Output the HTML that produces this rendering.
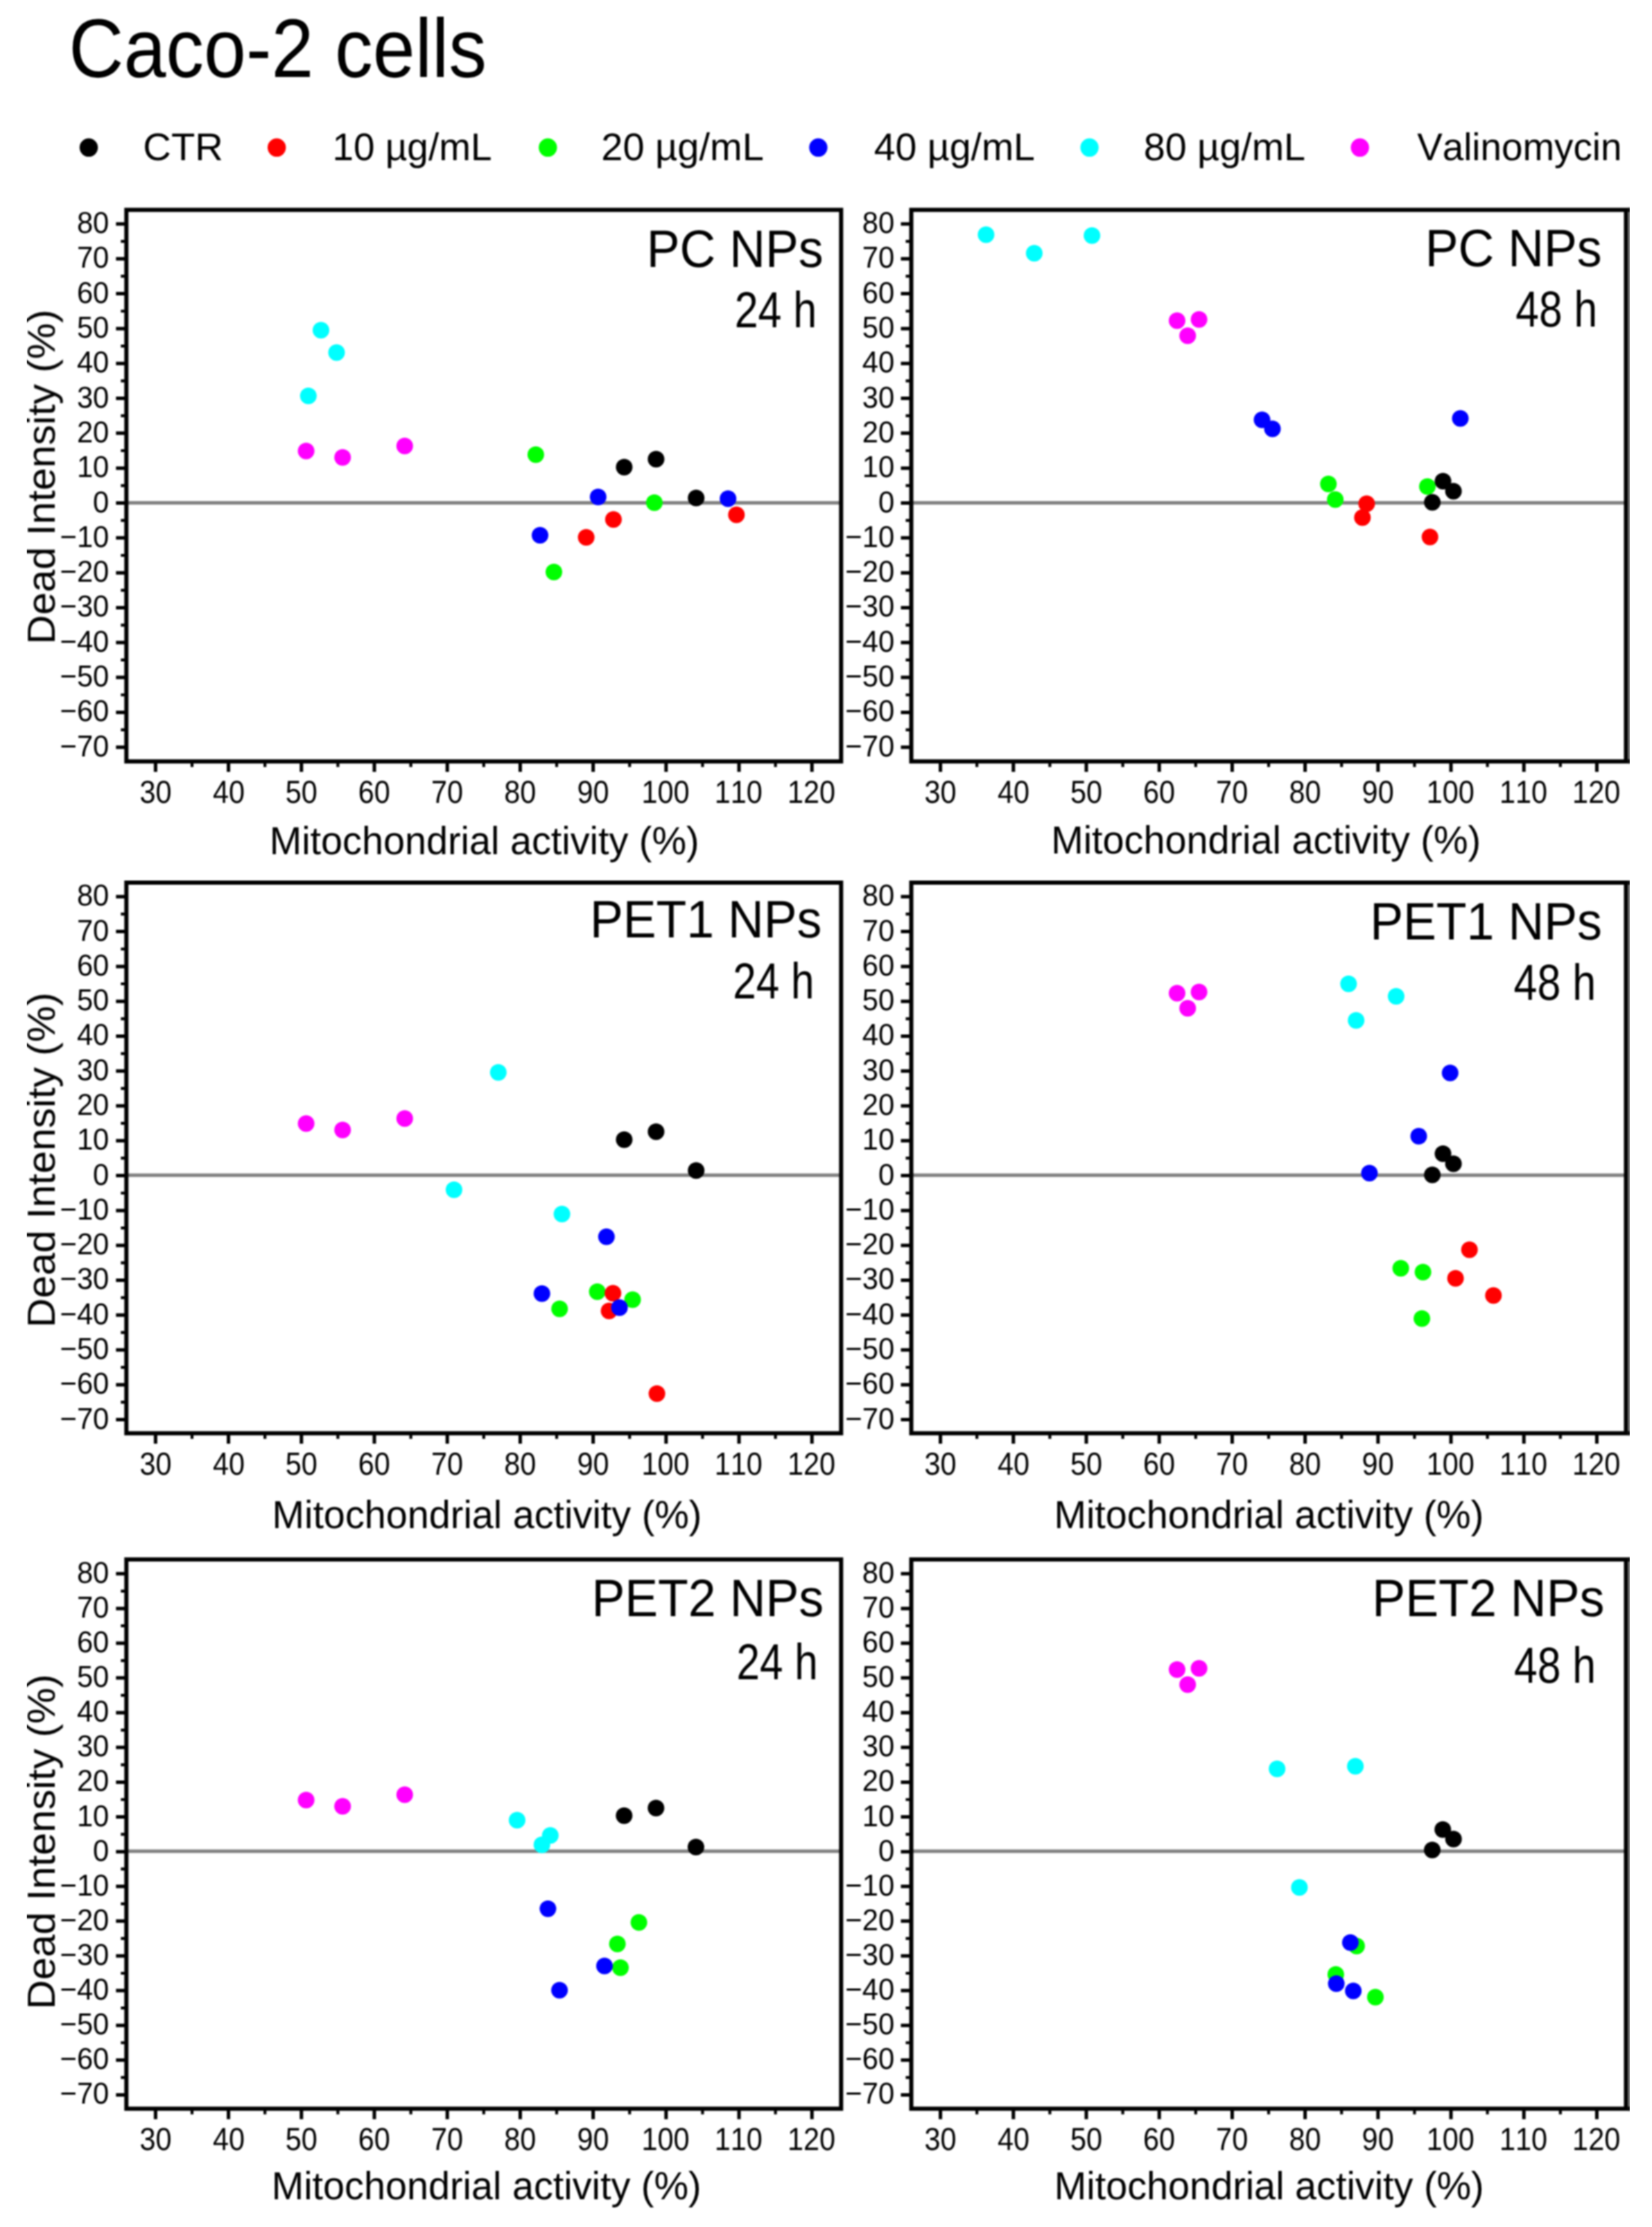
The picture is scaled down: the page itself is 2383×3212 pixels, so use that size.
<!DOCTYPE html>
<html lang="en"><head><meta charset="utf-8"><title>Caco-2 cells</title>
<style>html,body{margin:0;padding:0;background:#fff}svg{display:block}</style></head>
<body>
<svg width="2383" height="3212" viewBox="0 0 2383 3212" font-family="'Liberation Sans', sans-serif" text-rendering="geometricPrecision" style="font-kerning:none;font-variant-ligatures:none">
<rect width="2383" height="3212" fill="#fff"/>
<defs><filter id="soft" filterUnits="userSpaceOnUse" x="0" y="0" width="2383" height="3212" color-interpolation-filters="sRGB"><feGaussianBlur stdDeviation="1.1"/></filter></defs>
<g filter="url(#soft)">
<text transform="translate(99.24,111.40) scale(0.9132,1)" font-size="120" fill="#000" >Caco-2 cells</text>
<circle cx="128.0" cy="212.8" r="13.2" fill="#000000"/>
<text transform="translate(206.34,231.40) scale(1.0141,1)" font-size="55.5" fill="#000" >CTR</text>
<circle cx="399.2" cy="212.8" r="13.2" fill="#ff0000"/>
<text transform="translate(479.42,231.40) scale(0.9892,1)" font-size="55.5" fill="#000" >10 µg/mL</text>
<circle cx="790.3" cy="212.8" r="13.2" fill="#00ff00"/>
<text transform="translate(867.29,231.40) scale(1.0084,1)" font-size="55.5" fill="#000" >20 µg/mL</text>
<circle cx="1180.4" cy="212.8" r="13.2" fill="#0000ff"/>
<text transform="translate(1260.73,231.40) scale(0.9987,1)" font-size="55.5" fill="#000" >40 µg/mL</text>
<circle cx="1571.6" cy="212.8" r="13.2" fill="#00ffff"/>
<text transform="translate(1649.68,231.40) scale(1.0037,1)" font-size="55.5" fill="#000" >80 µg/mL</text>
<circle cx="1961.7" cy="212.8" r="13.2" fill="#ff00ff"/>
<text transform="translate(2044.16,231.40) scale(0.9869,1)" font-size="55.5" fill="#000" >Valinomycin</text>
<g>
<line x1="182.3" x2="1213.3" y1="725.20" y2="725.20" stroke="#808080" stroke-width="5"/>
<circle cx="463.0" cy="476.2" r="12.0" fill="#00ffff"/>
<circle cx="485.5" cy="508.4" r="12.0" fill="#00ffff"/>
<circle cx="444.8" cy="571.1" r="12.0" fill="#00ffff"/>
<circle cx="772.9" cy="655.7" r="12.0" fill="#00ff00"/>
<circle cx="943.9" cy="725.0" r="12.0" fill="#00ff00"/>
<circle cx="799.0" cy="825.1" r="12.0" fill="#00ff00"/>
<circle cx="1062.3" cy="742.5" r="12.0" fill="#ff0000"/>
<circle cx="884.9" cy="749.2" r="12.0" fill="#ff0000"/>
<circle cx="845.6" cy="774.9" r="12.0" fill="#ff0000"/>
<circle cx="862.8" cy="716.8" r="12.0" fill="#0000ff"/>
<circle cx="1050.2" cy="719.2" r="12.0" fill="#0000ff"/>
<circle cx="779.0" cy="771.9" r="12.0" fill="#0000ff"/>
<circle cx="900.4" cy="673.8" r="12.0" fill="#000000"/>
<circle cx="946.4" cy="662.3" r="12.0" fill="#000000"/>
<circle cx="1004.2" cy="718.3" r="12.0" fill="#000000"/>
<circle cx="441.6" cy="650.5" r="12.0" fill="#ff00ff"/>
<circle cx="494.2" cy="659.7" r="12.0" fill="#ff00ff"/>
<circle cx="583.8" cy="643.2" r="12.0" fill="#ff00ff"/>
<path d="M167.3 1077.72H180.3M167.3 1027.40H180.3M167.3 977.09H180.3M167.3 926.77H180.3M167.3 876.45H180.3M167.3 826.13H180.3M167.3 775.82H180.3M167.3 725.50H180.3M167.3 675.18H180.3M167.3 624.87H180.3M167.3 574.55H180.3M167.3 524.23H180.3M167.3 473.92H180.3M167.3 423.60H180.3M167.3 373.28H180.3M167.3 322.96H180.3M224.38 1100.2V1113.2M329.59 1100.2V1113.2M434.79 1100.2V1113.2M539.99 1100.2V1113.2M645.20 1100.2V1113.2M750.40 1100.2V1113.2M855.61 1100.2V1113.2M960.81 1100.2V1113.2M1066.01 1100.2V1113.2M1171.22 1100.2V1113.2" stroke="#000" stroke-width="5" fill="none"/>
<path d="M174.3 1052.56H180.3M174.3 1002.24H180.3M174.3 951.93H180.3M174.3 901.61H180.3M174.3 851.29H180.3M174.3 800.98H180.3M174.3 750.66H180.3M174.3 700.34H180.3M174.3 650.02H180.3M174.3 599.71H180.3M174.3 549.39H180.3M174.3 499.07H180.3M174.3 448.76H180.3M174.3 398.44H180.3M174.3 348.12H180.3M276.98 1100.2V1106.2M382.19 1100.2V1106.2M487.39 1100.2V1106.2M592.60 1100.2V1106.2M697.80 1100.2V1106.2M803.00 1100.2V1106.2M908.21 1100.2V1106.2M1013.41 1100.2V1106.2M1118.62 1100.2V1106.2" stroke="#000" stroke-width="4.2" fill="none"/>
<rect x="182.3" y="302.7" width="1031.0" height="795.5" fill="none" stroke="#000" stroke-width="6.0"/>
<text transform="translate(86.49,1090.72) scale(0.96,1)" font-size="43.5">−70</text>
<text transform="translate(86.49,1040.40) scale(0.96,1)" font-size="43.5">−60</text>
<text transform="translate(86.49,990.09) scale(0.96,1)" font-size="43.5">−50</text>
<text transform="translate(86.49,939.77) scale(0.96,1)" font-size="43.5">−40</text>
<text transform="translate(86.49,889.45) scale(0.96,1)" font-size="43.5">−30</text>
<text transform="translate(86.49,839.13) scale(0.96,1)" font-size="43.5">−20</text>
<text transform="translate(86.49,788.82) scale(0.96,1)" font-size="43.5">−10</text>
<text transform="translate(134.11,738.50) scale(0.96,1)" font-size="43.5">0</text>
<text transform="translate(110.88,688.18) scale(0.96,1)" font-size="43.5">10</text>
<text transform="translate(110.88,637.87) scale(0.96,1)" font-size="43.5">20</text>
<text transform="translate(110.88,587.55) scale(0.96,1)" font-size="43.5">30</text>
<text transform="translate(110.88,537.23) scale(0.96,1)" font-size="43.5">40</text>
<text transform="translate(110.88,486.92) scale(0.96,1)" font-size="43.5">50</text>
<text transform="translate(110.88,436.60) scale(0.96,1)" font-size="43.5">60</text>
<text transform="translate(110.88,386.28) scale(0.96,1)" font-size="43.5">70</text>
<text transform="translate(110.88,335.96) scale(0.96,1)" font-size="43.5">80</text>
<text transform="translate(201.38,1157.80) scale(0.9,1)" font-size="46.0">30</text>
<text transform="translate(306.89,1157.80) scale(0.9,1)" font-size="46.0">40</text>
<text transform="translate(411.74,1157.80) scale(0.9,1)" font-size="46.0">50</text>
<text transform="translate(516.73,1157.80) scale(0.9,1)" font-size="46.0">60</text>
<text transform="translate(621.92,1157.80) scale(0.9,1)" font-size="46.0">70</text>
<text transform="translate(727.29,1157.80) scale(0.9,1)" font-size="46.0">80</text>
<text transform="translate(832.42,1157.80) scale(0.9,1)" font-size="46.0">90</text>
<text transform="translate(925.50,1157.80) scale(0.9,1)" font-size="46.0">100</text>
<text transform="translate(1030.71,1157.80) scale(0.9,1)" font-size="46.0">110</text>
<text transform="translate(1135.91,1157.80) scale(0.9,1)" font-size="46.0">120</text>
<text transform="translate(932.82,385.20) scale(0.9426,1)" font-size="76" fill="#000" >PC NPs</text>
<text transform="translate(1059.63,471.90) scale(0.8349,1)" font-size="73" fill="#000" >24 h</text>
<text transform="translate(388.73,1232.00) scale(0.9871,1)" font-size="56.5" fill="#000" >Mitochondrial activity (%)</text>
</g>
<g>
<line x1="1314.5" x2="2345.5" y1="725.20" y2="725.20" stroke="#808080" stroke-width="5"/>
<circle cx="1422.4" cy="338.6" r="12.0" fill="#00ffff"/>
<circle cx="1491.9" cy="365.2" r="12.0" fill="#00ffff"/>
<circle cx="1575.2" cy="339.8" r="12.0" fill="#00ffff"/>
<circle cx="1916.2" cy="697.9" r="12.0" fill="#00ff00"/>
<circle cx="1926.1" cy="720.6" r="12.0" fill="#00ff00"/>
<circle cx="2059.0" cy="701.7" r="12.0" fill="#00ff00"/>
<circle cx="1965.3" cy="746.5" r="12.0" fill="#ff0000"/>
<circle cx="1971.4" cy="726.4" r="12.0" fill="#ff0000"/>
<circle cx="2062.7" cy="774.4" r="12.0" fill="#ff0000"/>
<circle cx="1820.5" cy="605.4" r="12.0" fill="#0000ff"/>
<circle cx="1835.5" cy="618.5" r="12.0" fill="#0000ff"/>
<circle cx="2106.5" cy="603.4" r="12.0" fill="#0000ff"/>
<circle cx="2081.5" cy="694.0" r="12.0" fill="#000000"/>
<circle cx="2096.6" cy="708.5" r="12.0" fill="#000000"/>
<circle cx="2066.1" cy="724.5" r="12.0" fill="#000000"/>
<circle cx="1697.9" cy="462.5" r="12.0" fill="#ff00ff"/>
<circle cx="1729.6" cy="460.8" r="12.0" fill="#ff00ff"/>
<circle cx="1713.2" cy="484.3" r="12.0" fill="#ff00ff"/>
<path d="M1299.5 1077.72H1312.5M1299.5 1027.40H1312.5M1299.5 977.09H1312.5M1299.5 926.77H1312.5M1299.5 876.45H1312.5M1299.5 826.13H1312.5M1299.5 775.82H1312.5M1299.5 725.50H1312.5M1299.5 675.18H1312.5M1299.5 624.87H1312.5M1299.5 574.55H1312.5M1299.5 524.23H1312.5M1299.5 473.92H1312.5M1299.5 423.60H1312.5M1299.5 373.28H1312.5M1299.5 322.96H1312.5M1356.58 1100.2V1113.2M1461.79 1100.2V1113.2M1566.99 1100.2V1113.2M1672.19 1100.2V1113.2M1777.40 1100.2V1113.2M1882.60 1100.2V1113.2M1987.81 1100.2V1113.2M2093.01 1100.2V1113.2M2198.21 1100.2V1113.2M2303.42 1100.2V1113.2" stroke="#000" stroke-width="5" fill="none"/>
<path d="M1306.5 1052.56H1312.5M1306.5 1002.24H1312.5M1306.5 951.93H1312.5M1306.5 901.61H1312.5M1306.5 851.29H1312.5M1306.5 800.98H1312.5M1306.5 750.66H1312.5M1306.5 700.34H1312.5M1306.5 650.02H1312.5M1306.5 599.71H1312.5M1306.5 549.39H1312.5M1306.5 499.07H1312.5M1306.5 448.76H1312.5M1306.5 398.44H1312.5M1306.5 348.12H1312.5M1409.18 1100.2V1106.2M1514.39 1100.2V1106.2M1619.59 1100.2V1106.2M1724.80 1100.2V1106.2M1830.00 1100.2V1106.2M1935.20 1100.2V1106.2M2040.41 1100.2V1106.2M2145.61 1100.2V1106.2M2250.82 1100.2V1106.2" stroke="#000" stroke-width="4.2" fill="none"/>
<rect x="1314.5" y="302.7" width="1031.0" height="795.5" fill="none" stroke="#000" stroke-width="6.0"/>
<text transform="translate(1219.29,1090.72) scale(0.96,1)" font-size="43.5">−70</text>
<text transform="translate(1219.29,1040.40) scale(0.96,1)" font-size="43.5">−60</text>
<text transform="translate(1219.29,990.09) scale(0.96,1)" font-size="43.5">−50</text>
<text transform="translate(1219.29,939.77) scale(0.96,1)" font-size="43.5">−40</text>
<text transform="translate(1219.29,889.45) scale(0.96,1)" font-size="43.5">−30</text>
<text transform="translate(1219.29,839.13) scale(0.96,1)" font-size="43.5">−20</text>
<text transform="translate(1219.29,788.82) scale(0.96,1)" font-size="43.5">−10</text>
<text transform="translate(1266.91,738.50) scale(0.96,1)" font-size="43.5">0</text>
<text transform="translate(1243.68,688.18) scale(0.96,1)" font-size="43.5">10</text>
<text transform="translate(1243.68,637.87) scale(0.96,1)" font-size="43.5">20</text>
<text transform="translate(1243.68,587.55) scale(0.96,1)" font-size="43.5">30</text>
<text transform="translate(1243.68,537.23) scale(0.96,1)" font-size="43.5">40</text>
<text transform="translate(1243.68,486.92) scale(0.96,1)" font-size="43.5">50</text>
<text transform="translate(1243.68,436.60) scale(0.96,1)" font-size="43.5">60</text>
<text transform="translate(1243.68,386.28) scale(0.96,1)" font-size="43.5">70</text>
<text transform="translate(1243.68,335.96) scale(0.96,1)" font-size="43.5">80</text>
<text transform="translate(1333.58,1157.80) scale(0.9,1)" font-size="46.0">30</text>
<text transform="translate(1439.09,1157.80) scale(0.9,1)" font-size="46.0">40</text>
<text transform="translate(1543.94,1157.80) scale(0.9,1)" font-size="46.0">50</text>
<text transform="translate(1648.93,1157.80) scale(0.9,1)" font-size="46.0">60</text>
<text transform="translate(1754.12,1157.80) scale(0.9,1)" font-size="46.0">70</text>
<text transform="translate(1859.49,1157.80) scale(0.9,1)" font-size="46.0">80</text>
<text transform="translate(1964.62,1157.80) scale(0.9,1)" font-size="46.0">90</text>
<text transform="translate(2057.70,1157.80) scale(0.9,1)" font-size="46.0">100</text>
<text transform="translate(2162.91,1157.80) scale(0.9,1)" font-size="46.0">110</text>
<text transform="translate(2268.11,1157.80) scale(0.9,1)" font-size="46.0">120</text>
<text transform="translate(2055.72,383.50) scale(0.9434,1)" font-size="76" fill="#000" >PC NPs</text>
<text transform="translate(2186.31,470.70) scale(0.8285,1)" font-size="73" fill="#000" >48 h</text>
<text transform="translate(1516.23,1230.80) scale(0.9871,1)" font-size="56.5" fill="#000" >Mitochondrial activity (%)</text>
</g>
<text transform="translate(79.0,929.32) rotate(-90) scale(1.0392,1)" font-size="56.5">Dead Intensity (%)</text>
<g>
<line x1="182.3" x2="1213.3" y1="1694.90" y2="1694.90" stroke="#808080" stroke-width="5"/>
<circle cx="718.8" cy="1546.8" r="12.0" fill="#00ffff"/>
<circle cx="654.9" cy="1716.0" r="12.0" fill="#00ffff"/>
<circle cx="810.6" cy="1750.9" r="12.0" fill="#00ffff"/>
<circle cx="807.2" cy="1887.7" r="12.0" fill="#00ff00"/>
<circle cx="861.6" cy="1863.1" r="12.0" fill="#00ff00"/>
<circle cx="912.5" cy="1874.4" r="12.0" fill="#00ff00"/>
<circle cx="884.2" cy="1865.2" r="12.0" fill="#ff0000"/>
<circle cx="878.6" cy="1890.7" r="12.0" fill="#ff0000"/>
<circle cx="947.6" cy="2010.0" r="12.0" fill="#ff0000"/>
<circle cx="874.8" cy="1783.8" r="12.0" fill="#0000ff"/>
<circle cx="781.7" cy="1865.7" r="12.0" fill="#0000ff"/>
<circle cx="893.6" cy="1886.1" r="12.0" fill="#0000ff"/>
<circle cx="900.4" cy="1643.8" r="12.0" fill="#000000"/>
<circle cx="946.4" cy="1632.3" r="12.0" fill="#000000"/>
<circle cx="1004.2" cy="1688.3" r="12.0" fill="#000000"/>
<circle cx="441.6" cy="1620.5" r="12.0" fill="#ff00ff"/>
<circle cx="494.2" cy="1629.7" r="12.0" fill="#ff00ff"/>
<circle cx="583.8" cy="1613.2" r="12.0" fill="#ff00ff"/>
<path d="M167.3 2047.61H180.3M167.3 1997.32H180.3M167.3 1947.03H180.3M167.3 1896.75H180.3M167.3 1846.46H180.3M167.3 1796.17H180.3M167.3 1745.89H180.3M167.3 1695.60H180.3M167.3 1645.31H180.3M167.3 1595.03H180.3M167.3 1544.74H180.3M167.3 1494.45H180.3M167.3 1444.16H180.3M167.3 1393.88H180.3M167.3 1343.59H180.3M167.3 1293.30H180.3M224.38 2069.2V2082.2M329.59 2069.2V2082.2M434.79 2069.2V2082.2M539.99 2069.2V2082.2M645.20 2069.2V2082.2M750.40 2069.2V2082.2M855.61 2069.2V2082.2M960.81 2069.2V2082.2M1066.01 2069.2V2082.2M1171.22 2069.2V2082.2" stroke="#000" stroke-width="5" fill="none"/>
<path d="M174.3 2022.47H180.3M174.3 1972.18H180.3M174.3 1921.89H180.3M174.3 1871.60H180.3M174.3 1821.32H180.3M174.3 1771.03H180.3M174.3 1720.74H180.3M174.3 1670.46H180.3M174.3 1620.17H180.3M174.3 1569.88H180.3M174.3 1519.60H180.3M174.3 1469.31H180.3M174.3 1419.02H180.3M174.3 1368.73H180.3M174.3 1318.45H180.3M276.98 2069.2V2075.2M382.19 2069.2V2075.2M487.39 2069.2V2075.2M592.60 2069.2V2075.2M697.80 2069.2V2075.2M803.00 2069.2V2075.2M908.21 2069.2V2075.2M1013.41 2069.2V2075.2M1118.62 2069.2V2075.2" stroke="#000" stroke-width="4.2" fill="none"/>
<rect x="182.3" y="1273.0" width="1031.0" height="794.2" fill="none" stroke="#000" stroke-width="6.0"/>
<text transform="translate(86.49,2060.61) scale(0.96,1)" font-size="43.5">−70</text>
<text transform="translate(86.49,2010.32) scale(0.96,1)" font-size="43.5">−60</text>
<text transform="translate(86.49,1960.03) scale(0.96,1)" font-size="43.5">−50</text>
<text transform="translate(86.49,1909.75) scale(0.96,1)" font-size="43.5">−40</text>
<text transform="translate(86.49,1859.46) scale(0.96,1)" font-size="43.5">−30</text>
<text transform="translate(86.49,1809.17) scale(0.96,1)" font-size="43.5">−20</text>
<text transform="translate(86.49,1758.89) scale(0.96,1)" font-size="43.5">−10</text>
<text transform="translate(134.11,1708.60) scale(0.96,1)" font-size="43.5">0</text>
<text transform="translate(110.88,1658.31) scale(0.96,1)" font-size="43.5">10</text>
<text transform="translate(110.88,1608.03) scale(0.96,1)" font-size="43.5">20</text>
<text transform="translate(110.88,1557.74) scale(0.96,1)" font-size="43.5">30</text>
<text transform="translate(110.88,1507.45) scale(0.96,1)" font-size="43.5">40</text>
<text transform="translate(110.88,1457.16) scale(0.96,1)" font-size="43.5">50</text>
<text transform="translate(110.88,1406.88) scale(0.96,1)" font-size="43.5">60</text>
<text transform="translate(110.88,1356.59) scale(0.96,1)" font-size="43.5">70</text>
<text transform="translate(110.88,1306.30) scale(0.96,1)" font-size="43.5">80</text>
<text transform="translate(201.38,2127.20) scale(0.9,1)" font-size="46.0">30</text>
<text transform="translate(306.89,2127.20) scale(0.9,1)" font-size="46.0">40</text>
<text transform="translate(411.74,2127.20) scale(0.9,1)" font-size="46.0">50</text>
<text transform="translate(516.73,2127.20) scale(0.9,1)" font-size="46.0">60</text>
<text transform="translate(621.92,2127.20) scale(0.9,1)" font-size="46.0">70</text>
<text transform="translate(727.29,2127.20) scale(0.9,1)" font-size="46.0">80</text>
<text transform="translate(832.42,2127.20) scale(0.9,1)" font-size="46.0">90</text>
<text transform="translate(925.50,2127.20) scale(0.9,1)" font-size="46.0">100</text>
<text transform="translate(1030.71,2127.20) scale(0.9,1)" font-size="46.0">110</text>
<text transform="translate(1135.91,2127.20) scale(0.9,1)" font-size="46.0">120</text>
<text transform="translate(851.03,1352.30) scale(0.9419,1)" font-size="76" fill="#000" >PET1 NPs</text>
<text transform="translate(1057.27,1440.00) scale(0.8244,1)" font-size="73" fill="#000" >24 h</text>
<text transform="translate(392.53,2204.30) scale(0.9871,1)" font-size="56.5" fill="#000" >Mitochondrial activity (%)</text>
</g>
<g>
<line x1="1314.5" x2="2345.5" y1="1694.90" y2="1694.90" stroke="#808080" stroke-width="5"/>
<circle cx="1945.3" cy="1419.1" r="12.0" fill="#00ffff"/>
<circle cx="2013.9" cy="1437.0" r="12.0" fill="#00ffff"/>
<circle cx="1956.2" cy="1471.8" r="12.0" fill="#00ffff"/>
<circle cx="2020.6" cy="1829.2" r="12.0" fill="#00ff00"/>
<circle cx="2052.6" cy="1834.7" r="12.0" fill="#00ff00"/>
<circle cx="2051.1" cy="1901.8" r="12.0" fill="#00ff00"/>
<circle cx="2119.7" cy="1802.5" r="12.0" fill="#ff0000"/>
<circle cx="2099.6" cy="1843.7" r="12.0" fill="#ff0000"/>
<circle cx="2154.3" cy="1868.6" r="12.0" fill="#ff0000"/>
<circle cx="2091.8" cy="1547.6" r="12.0" fill="#0000ff"/>
<circle cx="2046.5" cy="1638.7" r="12.0" fill="#0000ff"/>
<circle cx="1975.4" cy="1691.9" r="12.0" fill="#0000ff"/>
<circle cx="2081.5" cy="1664.0" r="12.0" fill="#000000"/>
<circle cx="2096.6" cy="1678.5" r="12.0" fill="#000000"/>
<circle cx="2066.1" cy="1694.5" r="12.0" fill="#000000"/>
<circle cx="1697.9" cy="1432.5" r="12.0" fill="#ff00ff"/>
<circle cx="1729.6" cy="1430.8" r="12.0" fill="#ff00ff"/>
<circle cx="1713.2" cy="1454.3" r="12.0" fill="#ff00ff"/>
<path d="M1299.5 2047.61H1312.5M1299.5 1997.32H1312.5M1299.5 1947.03H1312.5M1299.5 1896.75H1312.5M1299.5 1846.46H1312.5M1299.5 1796.17H1312.5M1299.5 1745.89H1312.5M1299.5 1695.60H1312.5M1299.5 1645.31H1312.5M1299.5 1595.03H1312.5M1299.5 1544.74H1312.5M1299.5 1494.45H1312.5M1299.5 1444.16H1312.5M1299.5 1393.88H1312.5M1299.5 1343.59H1312.5M1299.5 1293.30H1312.5M1356.58 2069.2V2082.2M1461.79 2069.2V2082.2M1566.99 2069.2V2082.2M1672.19 2069.2V2082.2M1777.40 2069.2V2082.2M1882.60 2069.2V2082.2M1987.81 2069.2V2082.2M2093.01 2069.2V2082.2M2198.21 2069.2V2082.2M2303.42 2069.2V2082.2" stroke="#000" stroke-width="5" fill="none"/>
<path d="M1306.5 2022.47H1312.5M1306.5 1972.18H1312.5M1306.5 1921.89H1312.5M1306.5 1871.60H1312.5M1306.5 1821.32H1312.5M1306.5 1771.03H1312.5M1306.5 1720.74H1312.5M1306.5 1670.46H1312.5M1306.5 1620.17H1312.5M1306.5 1569.88H1312.5M1306.5 1519.60H1312.5M1306.5 1469.31H1312.5M1306.5 1419.02H1312.5M1306.5 1368.73H1312.5M1306.5 1318.45H1312.5M1409.18 2069.2V2075.2M1514.39 2069.2V2075.2M1619.59 2069.2V2075.2M1724.80 2069.2V2075.2M1830.00 2069.2V2075.2M1935.20 2069.2V2075.2M2040.41 2069.2V2075.2M2145.61 2069.2V2075.2M2250.82 2069.2V2075.2" stroke="#000" stroke-width="4.2" fill="none"/>
<rect x="1314.5" y="1273.0" width="1031.0" height="794.2" fill="none" stroke="#000" stroke-width="6.0"/>
<text transform="translate(1219.29,2060.61) scale(0.96,1)" font-size="43.5">−70</text>
<text transform="translate(1219.29,2010.32) scale(0.96,1)" font-size="43.5">−60</text>
<text transform="translate(1219.29,1960.03) scale(0.96,1)" font-size="43.5">−50</text>
<text transform="translate(1219.29,1909.75) scale(0.96,1)" font-size="43.5">−40</text>
<text transform="translate(1219.29,1859.46) scale(0.96,1)" font-size="43.5">−30</text>
<text transform="translate(1219.29,1809.17) scale(0.96,1)" font-size="43.5">−20</text>
<text transform="translate(1219.29,1758.89) scale(0.96,1)" font-size="43.5">−10</text>
<text transform="translate(1266.91,1708.60) scale(0.96,1)" font-size="43.5">0</text>
<text transform="translate(1243.68,1658.31) scale(0.96,1)" font-size="43.5">10</text>
<text transform="translate(1243.68,1608.03) scale(0.96,1)" font-size="43.5">20</text>
<text transform="translate(1243.68,1557.74) scale(0.96,1)" font-size="43.5">30</text>
<text transform="translate(1243.68,1507.45) scale(0.96,1)" font-size="43.5">40</text>
<text transform="translate(1243.68,1457.16) scale(0.96,1)" font-size="43.5">50</text>
<text transform="translate(1243.68,1406.88) scale(0.96,1)" font-size="43.5">60</text>
<text transform="translate(1243.68,1356.59) scale(0.96,1)" font-size="43.5">70</text>
<text transform="translate(1243.68,1306.30) scale(0.96,1)" font-size="43.5">80</text>
<text transform="translate(1333.58,2127.20) scale(0.9,1)" font-size="46.0">30</text>
<text transform="translate(1439.09,2127.20) scale(0.9,1)" font-size="46.0">40</text>
<text transform="translate(1543.94,2127.20) scale(0.9,1)" font-size="46.0">50</text>
<text transform="translate(1648.93,2127.20) scale(0.9,1)" font-size="46.0">60</text>
<text transform="translate(1754.12,2127.20) scale(0.9,1)" font-size="46.0">70</text>
<text transform="translate(1859.49,2127.20) scale(0.9,1)" font-size="46.0">80</text>
<text transform="translate(1964.62,2127.20) scale(0.9,1)" font-size="46.0">90</text>
<text transform="translate(2057.70,2127.20) scale(0.9,1)" font-size="46.0">100</text>
<text transform="translate(2162.91,2127.20) scale(0.9,1)" font-size="46.0">110</text>
<text transform="translate(2268.11,2127.20) scale(0.9,1)" font-size="46.0">120</text>
<text transform="translate(1976.22,1355.20) scale(0.9431,1)" font-size="76" fill="#000" >PET1 NPs</text>
<text transform="translate(2183.60,1441.90) scale(0.8337,1)" font-size="73" fill="#000" >48 h</text>
<text transform="translate(1520.43,2203.50) scale(0.9871,1)" font-size="56.5" fill="#000" >Mitochondrial activity (%)</text>
</g>
<text transform="translate(79.0,1914.82) rotate(-90) scale(1.0403,1)" font-size="56.5">Dead Intensity (%)</text>
<g>
<line x1="182.3" x2="1213.3" y1="2670.10" y2="2670.10" stroke="#808080" stroke-width="5"/>
<circle cx="745.9" cy="2625.2" r="12.0" fill="#00ffff"/>
<circle cx="781.7" cy="2660.8" r="12.0" fill="#00ffff"/>
<circle cx="793.8" cy="2647.3" r="12.0" fill="#00ffff"/>
<circle cx="921.6" cy="2772.7" r="12.0" fill="#00ff00"/>
<circle cx="890.6" cy="2803.7" r="12.0" fill="#00ff00"/>
<circle cx="895.0" cy="2838.1" r="12.0" fill="#00ff00"/>
<circle cx="790.4" cy="2752.9" r="12.0" fill="#0000ff"/>
<circle cx="872.0" cy="2835.4" r="12.0" fill="#0000ff"/>
<circle cx="807.1" cy="2870.6" r="12.0" fill="#0000ff"/>
<circle cx="900.3" cy="2618.7" r="12.0" fill="#000000"/>
<circle cx="946.3" cy="2607.8" r="12.0" fill="#000000"/>
<circle cx="1003.9" cy="2664.0" r="12.0" fill="#000000"/>
<circle cx="441.6" cy="2596.3" r="12.0" fill="#ff00ff"/>
<circle cx="494.2" cy="2605.3" r="12.0" fill="#ff00ff"/>
<circle cx="583.8" cy="2588.6" r="12.0" fill="#ff00ff"/>
<path d="M167.3 3021.40H180.3M167.3 2971.29H180.3M167.3 2921.18H180.3M167.3 2871.08H180.3M167.3 2820.97H180.3M167.3 2770.86H180.3M167.3 2720.76H180.3M167.3 2670.65H180.3M167.3 2620.54H180.3M167.3 2570.44H180.3M167.3 2520.33H180.3M167.3 2470.22H180.3M167.3 2420.12H180.3M167.3 2370.01H180.3M167.3 2319.90H180.3M167.3 2269.79H180.3M224.38 3043.4V3056.4M329.59 3043.4V3056.4M434.79 3043.4V3056.4M539.99 3043.4V3056.4M645.20 3043.4V3056.4M750.40 3043.4V3056.4M855.61 3043.4V3056.4M960.81 3043.4V3056.4M1066.01 3043.4V3056.4M1171.22 3043.4V3056.4" stroke="#000" stroke-width="5" fill="none"/>
<path d="M174.3 2996.35H180.3M174.3 2946.24H180.3M174.3 2896.13H180.3M174.3 2846.02H180.3M174.3 2795.92H180.3M174.3 2745.81H180.3M174.3 2695.70H180.3M174.3 2645.60H180.3M174.3 2595.49H180.3M174.3 2545.38H180.3M174.3 2495.28H180.3M174.3 2445.17H180.3M174.3 2395.06H180.3M174.3 2344.95H180.3M174.3 2294.85H180.3M276.98 3043.4V3049.4M382.19 3043.4V3049.4M487.39 3043.4V3049.4M592.60 3043.4V3049.4M697.80 3043.4V3049.4M803.00 3043.4V3049.4M908.21 3043.4V3049.4M1013.41 3043.4V3049.4M1118.62 3043.4V3049.4" stroke="#000" stroke-width="4.2" fill="none"/>
<rect x="182.3" y="2249.2" width="1031.0" height="792.2" fill="none" stroke="#000" stroke-width="6.0"/>
<text transform="translate(86.49,3034.40) scale(0.96,1)" font-size="43.5">−70</text>
<text transform="translate(86.49,2984.29) scale(0.96,1)" font-size="43.5">−60</text>
<text transform="translate(86.49,2934.18) scale(0.96,1)" font-size="43.5">−50</text>
<text transform="translate(86.49,2884.08) scale(0.96,1)" font-size="43.5">−40</text>
<text transform="translate(86.49,2833.97) scale(0.96,1)" font-size="43.5">−30</text>
<text transform="translate(86.49,2783.86) scale(0.96,1)" font-size="43.5">−20</text>
<text transform="translate(86.49,2733.76) scale(0.96,1)" font-size="43.5">−10</text>
<text transform="translate(134.11,2683.65) scale(0.96,1)" font-size="43.5">0</text>
<text transform="translate(110.88,2633.54) scale(0.96,1)" font-size="43.5">10</text>
<text transform="translate(110.88,2583.44) scale(0.96,1)" font-size="43.5">20</text>
<text transform="translate(110.88,2533.33) scale(0.96,1)" font-size="43.5">30</text>
<text transform="translate(110.88,2483.22) scale(0.96,1)" font-size="43.5">40</text>
<text transform="translate(110.88,2433.12) scale(0.96,1)" font-size="43.5">50</text>
<text transform="translate(110.88,2383.01) scale(0.96,1)" font-size="43.5">60</text>
<text transform="translate(110.88,2332.90) scale(0.96,1)" font-size="43.5">70</text>
<text transform="translate(110.88,2282.79) scale(0.96,1)" font-size="43.5">80</text>
<text transform="translate(201.38,3101.30) scale(0.9,1)" font-size="46.0">30</text>
<text transform="translate(306.89,3101.30) scale(0.9,1)" font-size="46.0">40</text>
<text transform="translate(411.74,3101.30) scale(0.9,1)" font-size="46.0">50</text>
<text transform="translate(516.73,3101.30) scale(0.9,1)" font-size="46.0">60</text>
<text transform="translate(621.92,3101.30) scale(0.9,1)" font-size="46.0">70</text>
<text transform="translate(727.29,3101.30) scale(0.9,1)" font-size="46.0">80</text>
<text transform="translate(832.42,3101.30) scale(0.9,1)" font-size="46.0">90</text>
<text transform="translate(925.50,3101.30) scale(0.9,1)" font-size="46.0">100</text>
<text transform="translate(1030.71,3101.30) scale(0.9,1)" font-size="46.0">110</text>
<text transform="translate(1135.91,3101.30) scale(0.9,1)" font-size="46.0">120</text>
<text transform="translate(853.42,2331.40) scale(0.9434,1)" font-size="76" fill="#000" >PET2 NPs</text>
<text transform="translate(1062.57,2422.20) scale(0.8244,1)" font-size="73" fill="#000" >24 h</text>
<text transform="translate(391.73,3172.20) scale(0.9871,1)" font-size="56.5" fill="#000" >Mitochondrial activity (%)</text>
</g>
<g>
<line x1="1314.5" x2="2345.5" y1="2670.10" y2="2670.10" stroke="#808080" stroke-width="5"/>
<circle cx="1842.2" cy="2551.3" r="12.0" fill="#00ffff"/>
<circle cx="1955.1" cy="2547.5" r="12.0" fill="#00ffff"/>
<circle cx="1874.4" cy="2722.3" r="12.0" fill="#00ffff"/>
<circle cx="1956.9" cy="2806.8" r="12.0" fill="#00ff00"/>
<circle cx="1926.9" cy="2847.7" r="12.0" fill="#00ff00"/>
<circle cx="1984.0" cy="2880.4" r="12.0" fill="#00ff00"/>
<circle cx="1947.9" cy="2801.7" r="12.0" fill="#0000ff"/>
<circle cx="1927.6" cy="2861.0" r="12.0" fill="#0000ff"/>
<circle cx="1952.1" cy="2871.4" r="12.0" fill="#0000ff"/>
<circle cx="2081.2" cy="2638.7" r="12.0" fill="#000000"/>
<circle cx="2096.7" cy="2652.5" r="12.0" fill="#000000"/>
<circle cx="2066.0" cy="2668.3" r="12.0" fill="#000000"/>
<circle cx="1697.9" cy="2408.0" r="12.0" fill="#ff00ff"/>
<circle cx="1729.6" cy="2406.3" r="12.0" fill="#ff00ff"/>
<circle cx="1713.2" cy="2429.8" r="12.0" fill="#ff00ff"/>
<path d="M1299.5 3021.40H1312.5M1299.5 2971.29H1312.5M1299.5 2921.18H1312.5M1299.5 2871.08H1312.5M1299.5 2820.97H1312.5M1299.5 2770.86H1312.5M1299.5 2720.76H1312.5M1299.5 2670.65H1312.5M1299.5 2620.54H1312.5M1299.5 2570.44H1312.5M1299.5 2520.33H1312.5M1299.5 2470.22H1312.5M1299.5 2420.12H1312.5M1299.5 2370.01H1312.5M1299.5 2319.90H1312.5M1299.5 2269.79H1312.5M1356.58 3043.4V3056.4M1461.79 3043.4V3056.4M1566.99 3043.4V3056.4M1672.19 3043.4V3056.4M1777.40 3043.4V3056.4M1882.60 3043.4V3056.4M1987.81 3043.4V3056.4M2093.01 3043.4V3056.4M2198.21 3043.4V3056.4M2303.42 3043.4V3056.4" stroke="#000" stroke-width="5" fill="none"/>
<path d="M1306.5 2996.35H1312.5M1306.5 2946.24H1312.5M1306.5 2896.13H1312.5M1306.5 2846.02H1312.5M1306.5 2795.92H1312.5M1306.5 2745.81H1312.5M1306.5 2695.70H1312.5M1306.5 2645.60H1312.5M1306.5 2595.49H1312.5M1306.5 2545.38H1312.5M1306.5 2495.28H1312.5M1306.5 2445.17H1312.5M1306.5 2395.06H1312.5M1306.5 2344.95H1312.5M1306.5 2294.85H1312.5M1409.18 3043.4V3049.4M1514.39 3043.4V3049.4M1619.59 3043.4V3049.4M1724.80 3043.4V3049.4M1830.00 3043.4V3049.4M1935.20 3043.4V3049.4M2040.41 3043.4V3049.4M2145.61 3043.4V3049.4M2250.82 3043.4V3049.4" stroke="#000" stroke-width="4.2" fill="none"/>
<rect x="1314.5" y="2249.2" width="1031.0" height="792.2" fill="none" stroke="#000" stroke-width="6.0"/>
<text transform="translate(1219.29,3034.40) scale(0.96,1)" font-size="43.5">−70</text>
<text transform="translate(1219.29,2984.29) scale(0.96,1)" font-size="43.5">−60</text>
<text transform="translate(1219.29,2934.18) scale(0.96,1)" font-size="43.5">−50</text>
<text transform="translate(1219.29,2884.08) scale(0.96,1)" font-size="43.5">−40</text>
<text transform="translate(1219.29,2833.97) scale(0.96,1)" font-size="43.5">−30</text>
<text transform="translate(1219.29,2783.86) scale(0.96,1)" font-size="43.5">−20</text>
<text transform="translate(1219.29,2733.76) scale(0.96,1)" font-size="43.5">−10</text>
<text transform="translate(1266.91,2683.65) scale(0.96,1)" font-size="43.5">0</text>
<text transform="translate(1243.68,2633.54) scale(0.96,1)" font-size="43.5">10</text>
<text transform="translate(1243.68,2583.44) scale(0.96,1)" font-size="43.5">20</text>
<text transform="translate(1243.68,2533.33) scale(0.96,1)" font-size="43.5">30</text>
<text transform="translate(1243.68,2483.22) scale(0.96,1)" font-size="43.5">40</text>
<text transform="translate(1243.68,2433.12) scale(0.96,1)" font-size="43.5">50</text>
<text transform="translate(1243.68,2383.01) scale(0.96,1)" font-size="43.5">60</text>
<text transform="translate(1243.68,2332.90) scale(0.96,1)" font-size="43.5">70</text>
<text transform="translate(1243.68,2282.79) scale(0.96,1)" font-size="43.5">80</text>
<text transform="translate(1333.58,3101.30) scale(0.9,1)" font-size="46.0">30</text>
<text transform="translate(1439.09,3101.30) scale(0.9,1)" font-size="46.0">40</text>
<text transform="translate(1543.94,3101.30) scale(0.9,1)" font-size="46.0">50</text>
<text transform="translate(1648.93,3101.30) scale(0.9,1)" font-size="46.0">60</text>
<text transform="translate(1754.12,3101.30) scale(0.9,1)" font-size="46.0">70</text>
<text transform="translate(1859.49,3101.30) scale(0.9,1)" font-size="46.0">80</text>
<text transform="translate(1964.62,3101.30) scale(0.9,1)" font-size="46.0">90</text>
<text transform="translate(2057.70,3101.30) scale(0.9,1)" font-size="46.0">100</text>
<text transform="translate(2162.91,3101.30) scale(0.9,1)" font-size="46.0">110</text>
<text transform="translate(2268.11,3101.30) scale(0.9,1)" font-size="46.0">120</text>
<text transform="translate(1979.31,2331.40) scale(0.9448,1)" font-size="76" fill="#000" >PET2 NPs</text>
<text transform="translate(2184.11,2427.10) scale(0.8300,1)" font-size="73" fill="#000" >48 h</text>
<text transform="translate(1520.83,3172.20) scale(0.9871,1)" font-size="56.5" fill="#000" >Mitochondrial activity (%)</text>
</g>
<text transform="translate(79.0,2898.12) rotate(-90) scale(1.0405,1)" font-size="56.5">Dead Intensity (%)</text>
<rect x="2348.4" y="299.7" width="8" height="801.5" fill="#6a6a6a"/>
<rect x="2348" y="299.7" width="8" height="6" fill="#111"/>
<rect x="2348" y="1095.2" width="8" height="6" fill="#111"/>
<rect x="2348.4" y="1270.0" width="8" height="800.2" fill="#6a6a6a"/>
<rect x="2348" y="1270.0" width="8" height="6" fill="#111"/>
<rect x="2348" y="2064.2" width="8" height="6" fill="#111"/>
<rect x="2348.4" y="2246.2" width="8" height="798.2" fill="#6a6a6a"/>
<rect x="2348" y="2246.2" width="8" height="6" fill="#111"/>
<rect x="2348" y="3038.4" width="8" height="6" fill="#111"/>
</g>
<rect x="0" y="0" width="38.6" height="3212" fill="#fff"/>
<rect x="0" y="3185.7" width="2383" height="26.300000000000182" fill="#fff"/>
<rect x="2350.8" y="0" width="32.2" height="3212" fill="#fff"/>
</svg>
</body></html>
